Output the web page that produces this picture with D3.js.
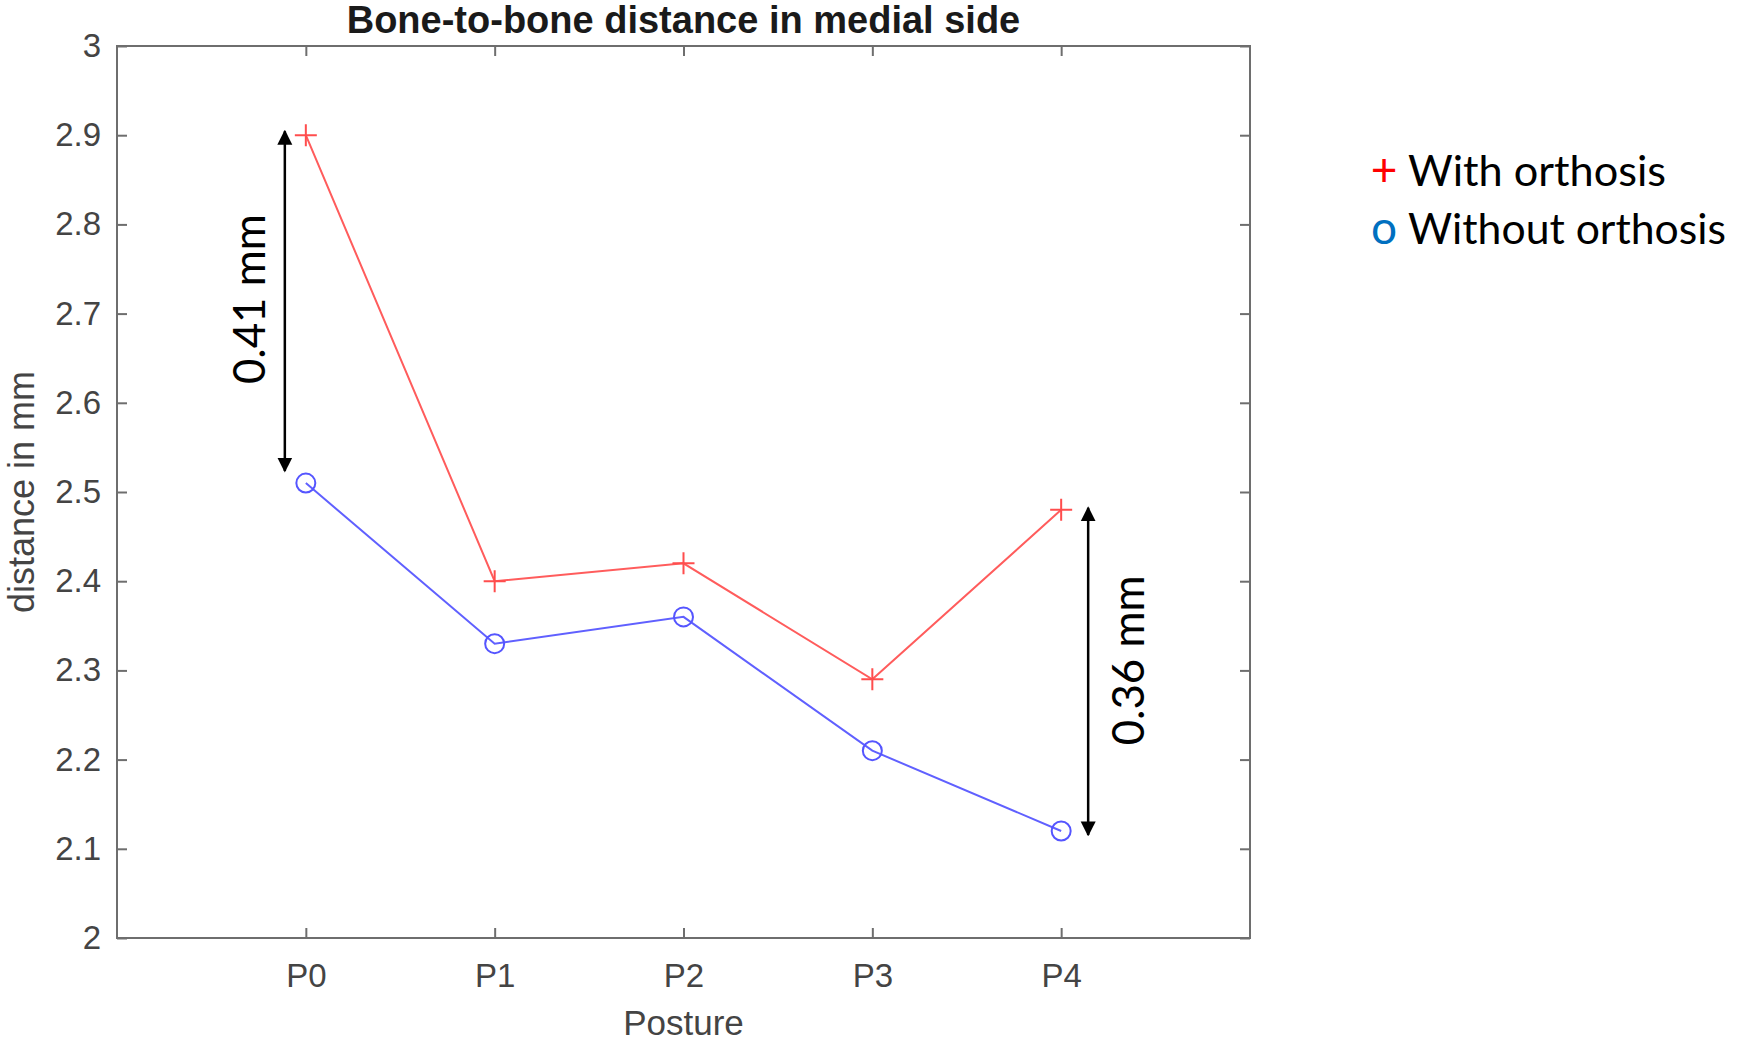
<!DOCTYPE html>
<html>
<head>
<meta charset="utf-8">
<script src="https://cdn.jsdelivr.net/npm/d3@7"></script>
<style>
  body { margin: 0; background: #fff; }
  svg { display: block; }
</style>
</head>
<body>
<svg id="chart" width="1743" height="1044"></svg>
<script>
// datos
const postures = ["P0", "P1", "P2", "P3", "P4"];
const withOrthosis = [2.90, 2.40, 2.42, 2.29, 2.48];
const withoutOrthosis = [2.51, 2.33, 2.36, 2.21, 2.12];
const yTicks = [2, 2.1, 2.2, 2.3, 2.4, 2.5, 2.6, 2.7, 2.8, 2.9, 3];

// diferencias marcadas con flechas
const gapPosture = ["P0", "P4"];
const gapLabels = ["0.41 mm", "0.36 mm"];

const svg = d3.select("#chart");

const plotLeft = 117, plotRight = 1250, plotTop = 46, plotBottom = 938;

// posiciones 1..5 en un dominio 0..6 (como en MATLAB)
const x = d3.scaleLinear().domain([0, postures.length + 1]).range([plotLeft, plotRight]);
const y = d3.scaleLinear().domain([2, 3]).range([plotBottom, plotTop]);
const xPos = p => x(postures.indexOf(p) + 1);

const axisColor = "#6e6e6e";
const labelColor = "#444";

// ajusta el tamaño de letra para que el texto ocupe un ancho dado
function fitText(sel, width, maxSize) {
    sel.attr("font-size", maxSize);
    const w = sel.node().getComputedTextLength();
    if (w > width) sel.attr("font-size", maxSize * width / w);
}

// marco del gráfico
svg.append("rect")
   .attr("x", plotLeft).attr("y", plotTop)
   .attr("width", plotRight - plotLeft).attr("height", plotBottom - plotTop)
   .attr("fill", "none").attr("stroke", axisColor).attr("stroke-width", 2);

// ejes con marcas hacia dentro
const tickVals = postures.map((d, i) => i + 1);
const styleAxis = g => {
    g.select(".domain").remove();
    g.selectAll(".tick line").attr("stroke", axisColor).attr("stroke-width", 2);
    g.selectAll(".tick text")
     .attr("fill", labelColor)
     .attr("font-family", "Liberation Sans, Arial, sans-serif")
     .attr("font-size", 33);
};

svg.append("g")
   .attr("transform", `translate(0,${plotBottom})`)
   .call(d3.axisBottom(x).tickValues(tickVals).tickSize(-10).tickPadding(26)
           .tickFormat(d => postures[d - 1]))
   .call(styleAxis);

svg.append("g")
   .attr("transform", `translate(0,${plotTop})`)
   .call(d3.axisTop(x).tickValues(tickVals).tickSize(-10).tickFormat(""))
   .call(styleAxis);

svg.append("g")
   .attr("transform", `translate(${plotLeft},0)`)
   .call(d3.axisLeft(y).tickValues(yTicks).tickSize(-10).tickPadding(16)
           .tickFormat(d3.format("~g")))
   .call(styleAxis);

svg.append("g")
   .attr("transform", `translate(${plotRight},0)`)
   .call(d3.axisRight(y).tickValues(yTicks).tickSize(-10).tickFormat(""))
   .call(styleAxis);

// título y etiquetas de ejes
svg.append("text")
   .attr("x", (plotLeft + plotRight) / 2).attr("y", 33)
   .attr("text-anchor", "middle")
   .attr("font-family", "Liberation Sans, Arial, sans-serif")
   .attr("font-weight", "bold").attr("font-size", 38)
   .attr("fill", "#1a1a1a")
   .text("Bone-to-bone distance in medial side");

svg.append("text")
   .attr("x", (plotLeft + plotRight) / 2).attr("y", 1035)
   .attr("text-anchor", "middle")
   .attr("font-family", "Liberation Sans, Arial, sans-serif")
   .attr("font-size", 35).attr("fill", labelColor)
   .text("Posture");

svg.append("text")
   .attr("transform", `translate(34,${(plotTop + plotBottom) / 2}) rotate(-90)`)
   .attr("text-anchor", "middle")
   .attr("font-family", "Liberation Sans, Arial, sans-serif")
   .attr("font-size", 36).attr("fill", labelColor)
   .text("distance in mm");

// líneas
const line = d3.line().x((d, i) => x(i + 1)).y(d => y(d));

svg.append("path")
   .datum(withOrthosis)
   .attr("d", line)
   .attr("fill", "none").attr("stroke", "#ff5c5c").attr("stroke-width", 2);

svg.append("path")
   .datum(withoutOrthosis)
   .attr("d", line)
   .attr("fill", "none").attr("stroke", "#6060ff").attr("stroke-width", 2);

// marcadores "+"
svg.selectAll(".plus")
   .data(withOrthosis)
   .enter()
   .append("path")
   .attr("class", "plus")
   .attr("d", (d, i) => {
       const cx = x(i + 1), cy = y(d), r = 11;
       return `M${cx - r},${cy}H${cx + r}M${cx},${cy - r}V${cy + r}`;
   })
   .attr("stroke", "#ff4d4d").attr("stroke-width", 2);

// marcadores "o"
svg.selectAll(".ring")
   .data(withoutOrthosis)
   .enter()
   .append("circle")
   .attr("class", "ring")
   .attr("cx", (d, i) => x(i + 1))
   .attr("cy", d => y(d))
   .attr("r", 9.5)
   .attr("fill", "none").attr("stroke", "#5555ff").attr("stroke-width", 2);

// flechas de diferencia
const defs = svg.append("defs");
defs.append("marker")
    .attr("id", "head")
    .attr("viewBox", "0 0 10 10")
    .attr("refX", 9).attr("refY", 5)
    .attr("markerWidth", 6).attr("markerHeight", 7)
    .attr("markerUnits", "strokeWidth")
    .attr("orient", "auto-start-reverse")
    .append("path")
    .attr("d", "M0,0L10,5L0,10Z")
    .attr("fill", "#000");

gapPosture.forEach((p, k) => {
    const i = postures.indexOf(p);
    const ax = k === 0 ? xPos(p) - 21 : xPos(p) + 27;
    const y1 = y(withOrthosis[i]), y2 = y(withoutOrthosis[i]);
    svg.append("line")
       .attr("x1", ax).attr("x2", ax)
       .attr("y1", y1 + (k === 0 ? -4 : -2)).attr("y2", y2 + (k === 0 ? -12 : 4))
       .attr("stroke", "#000").attr("stroke-width", 2.5)
       .attr("marker-start", "url(#head)")
       .attr("marker-end", "url(#head)");

    const tx = k === 0 ? ax - 37 : ax + 39;
    svg.append("text")
       .attr("transform", `translate(${tx},${(y1 + y2) / 2 - 10}) rotate(-90)`)
       .attr("text-anchor", "middle")
       .attr("dominant-baseline", "central")
       .attr("font-family", "Lato, Carlito, sans-serif")
       .attr("fill", "#000")
       .text(gapLabels[k])
       .call(fitText, 170, 46);
});

// leyenda
const legend = [
    { sym: "+", color: "#ff0000", label: "With orthosis", y: 186, w: 258 },
    { sym: "o", color: "#0070c0", label: "Without orthosis", y: 244, w: 318 }
];
legend.forEach(l => {
    svg.append("text")
       .attr("x", 1384).attr("y", l.y)
       .attr("text-anchor", "middle")
       .attr("font-family", "Lato, Carlito, sans-serif")
       .attr("font-size", 46).attr("fill", l.color)
       .text(l.sym);
    svg.append("text")
       .attr("x", 1408).attr("y", l.y)
       .attr("font-family", "Lato, Carlito, sans-serif")
       .attr("fill", "#000")
       .text(l.label)
       .call(fitText, l.w, 46);
});
</script>
</body>
</html>
